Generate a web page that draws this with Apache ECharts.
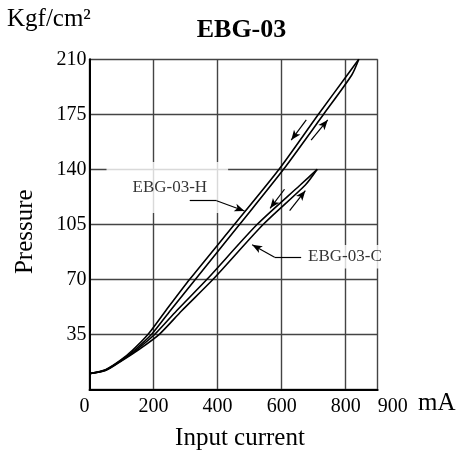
<!DOCTYPE html>
<html>
<head>
  <meta charset="utf-8">
</head>
<body style="margin: 0">
  <div id="container" style="width: 461px; height: 455px"></div>
  <script src="https://cdn.jsdelivr.net/npm/echarts@6/dist/echarts.min.js"></script>
  <script>
    // curves: [current mA, pressure]
    var hUp   = [[0,10],[50,12.3],[99,18.5],[141,25],[194,35],[252,50],[331,70],[469,105],[606,140],[731,175],[819,200],[841,210]];
    var hDown = [[0,10],[50,12.5],[97,18.5],[135,25],[183,35],[238,50],[313,70],[453,105],[592,140],[715,175],[805,200],[841,210]];
    var cUp   = [[0,10],[50,11.9],[103,18.5],[152,25],[218,35],[288,50],[386,70],[543,105],[674,130],[711,140]];
    var cDown = [[0,10],[50,12.1],[101,18.5],[146,25],[204,35],[272,50],[367,70],[524,105],[658,130],[711,140]];

    var seriesNames = ['EBG-03-H', 'EBG-03-C'];
    // small direction arrows [from, to]
    var arrows = [
      [[677,171.4],[630,158.6]], [[692,158.6],[744,171.4]],
      [[609,127.3],[564,115.2]], [[625,113.7],[674,126.4]]
    ];
    // leader lines: plain segment + arrow segment
    var leaders = [
      [[313,120],[397,120],[484,113.5]],
      [[661,84],[578,84],[508,92]]
    ];
    var labelPos = [[243,128.4],[793,84.4]];

    var serif = 'Liberation Serif';
    var chart = echarts.init(document.getElementById('container'));

    function curve(d) {
      return {
        type: 'line', data: d, smooth: 0.25,
        symbol: 'none', z: 5,
        lineStyle: { color: '#000', width: 1.6 }
      };
    }

    var markData = [];
    arrows.forEach(function (a) {
      markData.push([{ coord: a[0], symbol: 'none' }, { coord: a[1], symbol: 'arrow' }]);
    });
    leaders.forEach(function (l) {
      markData.push([{ coord: l[0], symbol: 'none' }, { coord: l[1], symbol: 'none' }]);
      markData.push([{ coord: l[1], symbol: 'none' }, { coord: l[2], symbol: 'arrow' }]);
    });

    var option = {
      animation: false,
      grid: { left: 89.5, right: 83.3, top: 59.3, bottom: 65.7 },
      xAxis: {
        type: 'value', min: 0, max: 900, interval: 200,
        axisLine: { lineStyle: { color: '#000', width: 2 } },
        axisTick: { show: false },
        axisLabel: {
          color: '#000', fontFamily: serif, fontSize: 20, margin: 7,
          alignMinLabel: 'right', alignMaxLabel: 'left'
        },
        splitLine: { lineStyle: { color: '#444', width: 1.4 } }
      },
      yAxis: {
        type: 'value', min: 0, max: 210, interval: 35,
        axisLine: { show: true, lineStyle: { color: '#000', width: 2 } },
        axisTick: { show: false },
        axisLabel: {
          color: '#000', fontFamily: serif, fontSize: 20, margin: 3,
          showMinLabel: false
        },
        splitLine: { lineStyle: { color: '#444', width: 1.4 } }
      },
      graphic: [
        { type: 'text', x: 241.5, y: 30.5, style: { text: 'EBG-03', font: 'bold 26px ' + serif, fill: '#000', align: 'center', verticalAlign: 'middle' } },
        { type: 'text', x: 7, y: 19, style: { text: 'Kgf/cm²', font: '25px ' + serif, fill: '#000', align: 'left', verticalAlign: 'middle' } },
        { type: 'text', x: 25, y: 231.7, rotation: Math.PI / 2, style: { text: 'Pressure', font: '25px ' + serif, fill: '#000', align: 'center', verticalAlign: 'middle' } },
        { type: 'text', x: 240, y: 438.3, style: { text: 'Input current', font: '25px ' + serif, fill: '#000', align: 'center', verticalAlign: 'middle' } },
        { type: 'text', x: 418, y: 403.3, style: { text: 'mA', font: '25px ' + serif, fill: '#000', align: 'left', verticalAlign: 'middle' } }
      ],
      series: [
        {
          type: 'scatter', z: 3, symbolSize: 0, silent: true,
          data: [
            { name: seriesNames[0], value: labelPos[0], label: { padding: [12, 21, 21, 26] } },
            { name: seriesNames[1], value: labelPos[1], label: { padding: [5.5, 3, 0, 6] } }
          ],
          label: {
            show: true, position: 'inside', formatter: '{b}',
            color: '#000', fontFamily: serif, fontSize: 17, lineHeight: 18,
            backgroundColor: '#fff'
          }
        },
        curve(hUp), curve(hDown), curve(cUp), curve(cDown),
        {
          type: 'line', data: [], z: 6,
          markLine: {
            silent: true, symbolSize: [6, 10],
            label: { show: false },
            lineStyle: { color: '#000', width: 1.2, type: 'solid' },
            itemStyle: { color: '#000' },
            data: markData
          }
        }
      ]
    };
    chart.setOption(option);
  </script>
</body>
</html>
